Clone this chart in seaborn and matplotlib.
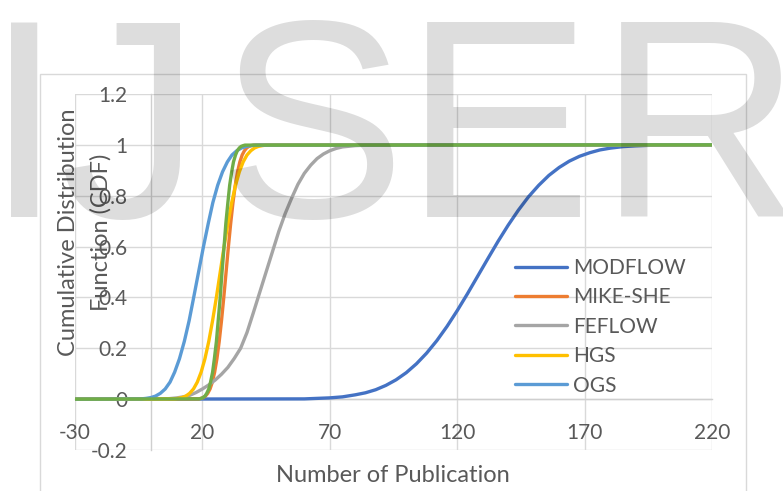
import numpy as np
import pandas as pd
import matplotlib
matplotlib.use("Agg")
import matplotlib.pyplot as plt
from matplotlib.lines import Line2D
from matplotlib.patches import Rectangle
import seaborn as sns

# ---------------- data ----------------
series_names = ["MODFLOW", "MIKE-SHE", "FEFLOW", "HGS", "OGS", "Series6"]
legend_names = ["MODFLOW", "MIKE-SHE", "FEFLOW", "HGS", "OGS"]
series_colors = ["#4472C4", "#ED7D31", "#A5A5A5", "#FFC000", "#5B9BD5", "#70AD47"]

modflow_x = [-30, 60, 65, 70, 75, 80, 84, 88, 92, 96, 100, 104, 108, 112, 116,
             120, 124, 128, 132, 136, 140, 144, 148, 152, 156, 160, 164, 168,
             172, 176, 180, 185, 190, 195, 200, 210, 220]
modflow_y = [0, 0.001, 0.003, 0.005, 0.009, 0.017, 0.025, 0.037, 0.054, 0.076,
             0.104, 0.139, 0.181, 0.230, 0.286, 0.348, 0.414, 0.483, 0.552,
             0.620, 0.684, 0.743, 0.796, 0.841, 0.880, 0.911, 0.936, 0.955,
             0.969, 0.980, 0.987, 0.993, 0.996, 0.998, 0.999, 1.0, 1.0]

mikeshe_x = [-30, 18.5, 19.4, 20.3, 21.2, 22.1, 23.0, 23.9, 24.8, 25.7, 26.6,
             27.5, 28.4, 29.3, 30.2, 31.1, 32.0, 32.9, 33.8, 34.7, 35.6, 36.5,
             37.4, 38.3, 39.2, 40.1, 220]
mikeshe_y = [0, 0.001, 0.003, 0.006, 0.012, 0.023, 0.040, 0.067, 0.106, 0.159,
             0.227, 0.309, 0.401, 0.500, 0.599, 0.691, 0.773, 0.841, 0.894,
             0.933, 0.960, 0.977, 0.988, 0.994, 0.997, 0.999, 1.0]

feflow_x = [-30, 5, 10, 12.5, 15, 17.5, 20, 22.5, 25, 27.5, 30, 32.5, 35, 37.5,
            40, 42.5, 45, 47.5, 50, 52.5, 55, 57.5, 60, 62.5, 65, 67.5, 70,
            72.5, 75, 80, 85, 90, 220]
feflow_y = [0, 0.0, 0.005, 0.009, 0.015, 0.026, 0.040, 0.056, 0.075, 0.098,
            0.125, 0.160, 0.200, 0.262, 0.340, 0.420, 0.500, 0.580, 0.660,
            0.730, 0.790, 0.845, 0.888, 0.920, 0.946, 0.964, 0.977, 0.986,
            0.992, 0.997, 0.999, 1.0, 1.0]

hgs_x = [-30, 9, 10.5, 12, 13.5, 15, 16.5, 18, 19.5, 21, 22.5, 24, 25.5, 27,
         28.5, 30, 31.5, 33, 34.5, 36, 37.5, 39, 40.5, 42, 43.5, 45, 220]
hgs_y = [0, 0.001, 0.003, 0.006, 0.012, 0.023, 0.040, 0.067, 0.106, 0.159,
         0.227, 0.309, 0.401, 0.500, 0.599, 0.691, 0.773, 0.841, 0.894,
         0.933, 0.960, 0.977, 0.988, 0.994, 0.997, 0.999, 1.0]

ogs_x = [-30, -4.0, -2.1, -0.3, 1.6, 3.5, 5.4, 7.3, 9.1, 11.0, 12.9, 14.8,
         16.6, 18.5, 20.4, 22.3, 24.1, 26.0, 27.9, 29.8, 31.6, 33.5, 35.4,
         37.3, 39.1, 41.0, 220]
ogs_y = [0, 0.001, 0.003, 0.006, 0.012, 0.023, 0.040, 0.067, 0.106, 0.159,
         0.227, 0.309, 0.401, 0.500, 0.599, 0.691, 0.773, 0.841, 0.894,
         0.933, 0.960, 0.977, 0.988, 0.994, 0.997, 0.999, 1.0]

series6_x = [-30, 18.7, 19.5, 20.2, 21.0, 21.7, 22.5, 23.2, 24.0, 24.7, 25.5,
             26.2, 27.0, 27.7, 28.5, 29.2, 30.0, 30.7, 31.5, 32.2, 33.0, 33.7,
             34.5, 35.2, 36.0, 36.7, 220]
series6_y = [0, 0.001, 0.003, 0.006, 0.012, 0.023, 0.040, 0.067, 0.106, 0.159,
             0.227, 0.309, 0.401, 0.500, 0.599, 0.691, 0.773, 0.841, 0.894,
             0.933, 0.960, 0.977, 0.988, 0.994, 0.997, 0.999, 1.0]

x_ticks = [-30, 20, 70, 120, 170, 220]
x_tick_labels = ["-30", "20", "70", "120", "170", "220"]
y_ticks = [-0.2, 0.0, 0.2, 0.4, 0.6, 0.8, 1.0, 1.2]
y_tick_labels = ["-0.2", "0", "0.2", "0.4", "0.6", "0.8", "1", "1.2"]

x_title = "Number of Publication"
y_title = "Cumulative Distribution\nFunction (CDF)"
watermark = ["I", "J", "S", "E", "R"]

# ---------------- build table ----------------
all_x = [modflow_x, mikeshe_x, feflow_x, hgs_x, ogs_x, series6_x]
all_y = [modflow_y, mikeshe_y, feflow_y, hgs_y, ogs_y, series6_y]
frames = []
for name, xs, ys in zip(series_names, all_x, all_y):
    frames.append(pd.DataFrame({"x": xs, "y": ys, "series": name}))
df = pd.concat(frames, ignore_index=True)

# ---------------- style ----------------
sns.set_style("white")
plt.rcParams["font.family"] = ["Lato", "DejaVu Sans"]
text_color = "#595959"
grid_color = "#D9D9D9"

fig = plt.figure(figsize=(7.83, 4.91), dpi=100)
W, H = 783.0, 491.0
ax = fig.add_axes([75 / W, 1 - 450 / H, (712 - 75) / W, (450 - 94) / H])

sns.lineplot(data=df, x="x", y="y", hue="series", hue_order=series_names,
             palette=series_colors, linewidth=2.4, estimator=None,
             legend=False, ax=ax, zorder=3)

ax.set_xlim(-30, 220)
ax.set_ylim(-0.2, 1.2)
ax.set_xticks(x_ticks)
ax.set_xticklabels(x_tick_labels)
ax.set_yticks(y_ticks)
ax.set_yticklabels(y_tick_labels)
ax.set_xlabel("")
ax.set_ylabel("")
ax.grid(True, color=grid_color, linewidth=1.0, zorder=0)
ax.set_axisbelow(True)

for side in ["top", "right"]:
    ax.spines[side].set_visible(False)
ax.spines["left"].set_position(("data", 0))
ax.spines["bottom"].set_position(("data", 0))
ax.spines["left"].set_color("#CFCFCF")
ax.spines["bottom"].set_color("#CFCFCF")
ax.spines["left"].set_linewidth(1.0)
ax.spines["bottom"].set_linewidth(1.0)
ax.tick_params(axis="both", length=0, labelsize=15, colors=text_color, pad=17)

# axis titles
fig.text(392.5 / W, 1 - 482 / H, x_title, ha="center", va="baseline",
         fontsize=17, color=text_color)
fig.text(85 / W, 1 - 232 / H, y_title, ha="center", va="center",
         rotation=90, fontsize=17, color=text_color, multialignment="center",
         linespacing=1.6)

# legend (first five series)
handles = [Line2D([0], [0], color=c, lw=2.4) for c in series_colors[:5]]
ax.legend(handles, legend_names, loc="upper left",
          bbox_to_anchor=(515 / W, 1 - 258 / H), bbox_transform=fig.transFigure,
          frameon=False, fontsize=15, handlelength=2.5, handletextpad=0.3,
          labelspacing=0.45, borderpad=0, borderaxespad=0, labelcolor=text_color)

# chart area border
fig.patches.append(Rectangle((40 / W, -0.05), (746 - 40) / W, 1 - 74 / H + 0.05,
                             transform=fig.transFigure, fill=False,
                             edgecolor="#D9D9D9", linewidth=1.0, zorder=1))

# watermark overlay
wm_centers = [24, 130, 311, 498, 700]
for ch, cx in zip(watermark, wm_centers):
    fig.text(cx / W, 1 - 217 / H, ch, ha="center", va="baseline",
             fontsize=203, family="Liberation Sans", color="black",
             alpha=0.135, zorder=10)

fig.savefig("out.png", dpi=100)
